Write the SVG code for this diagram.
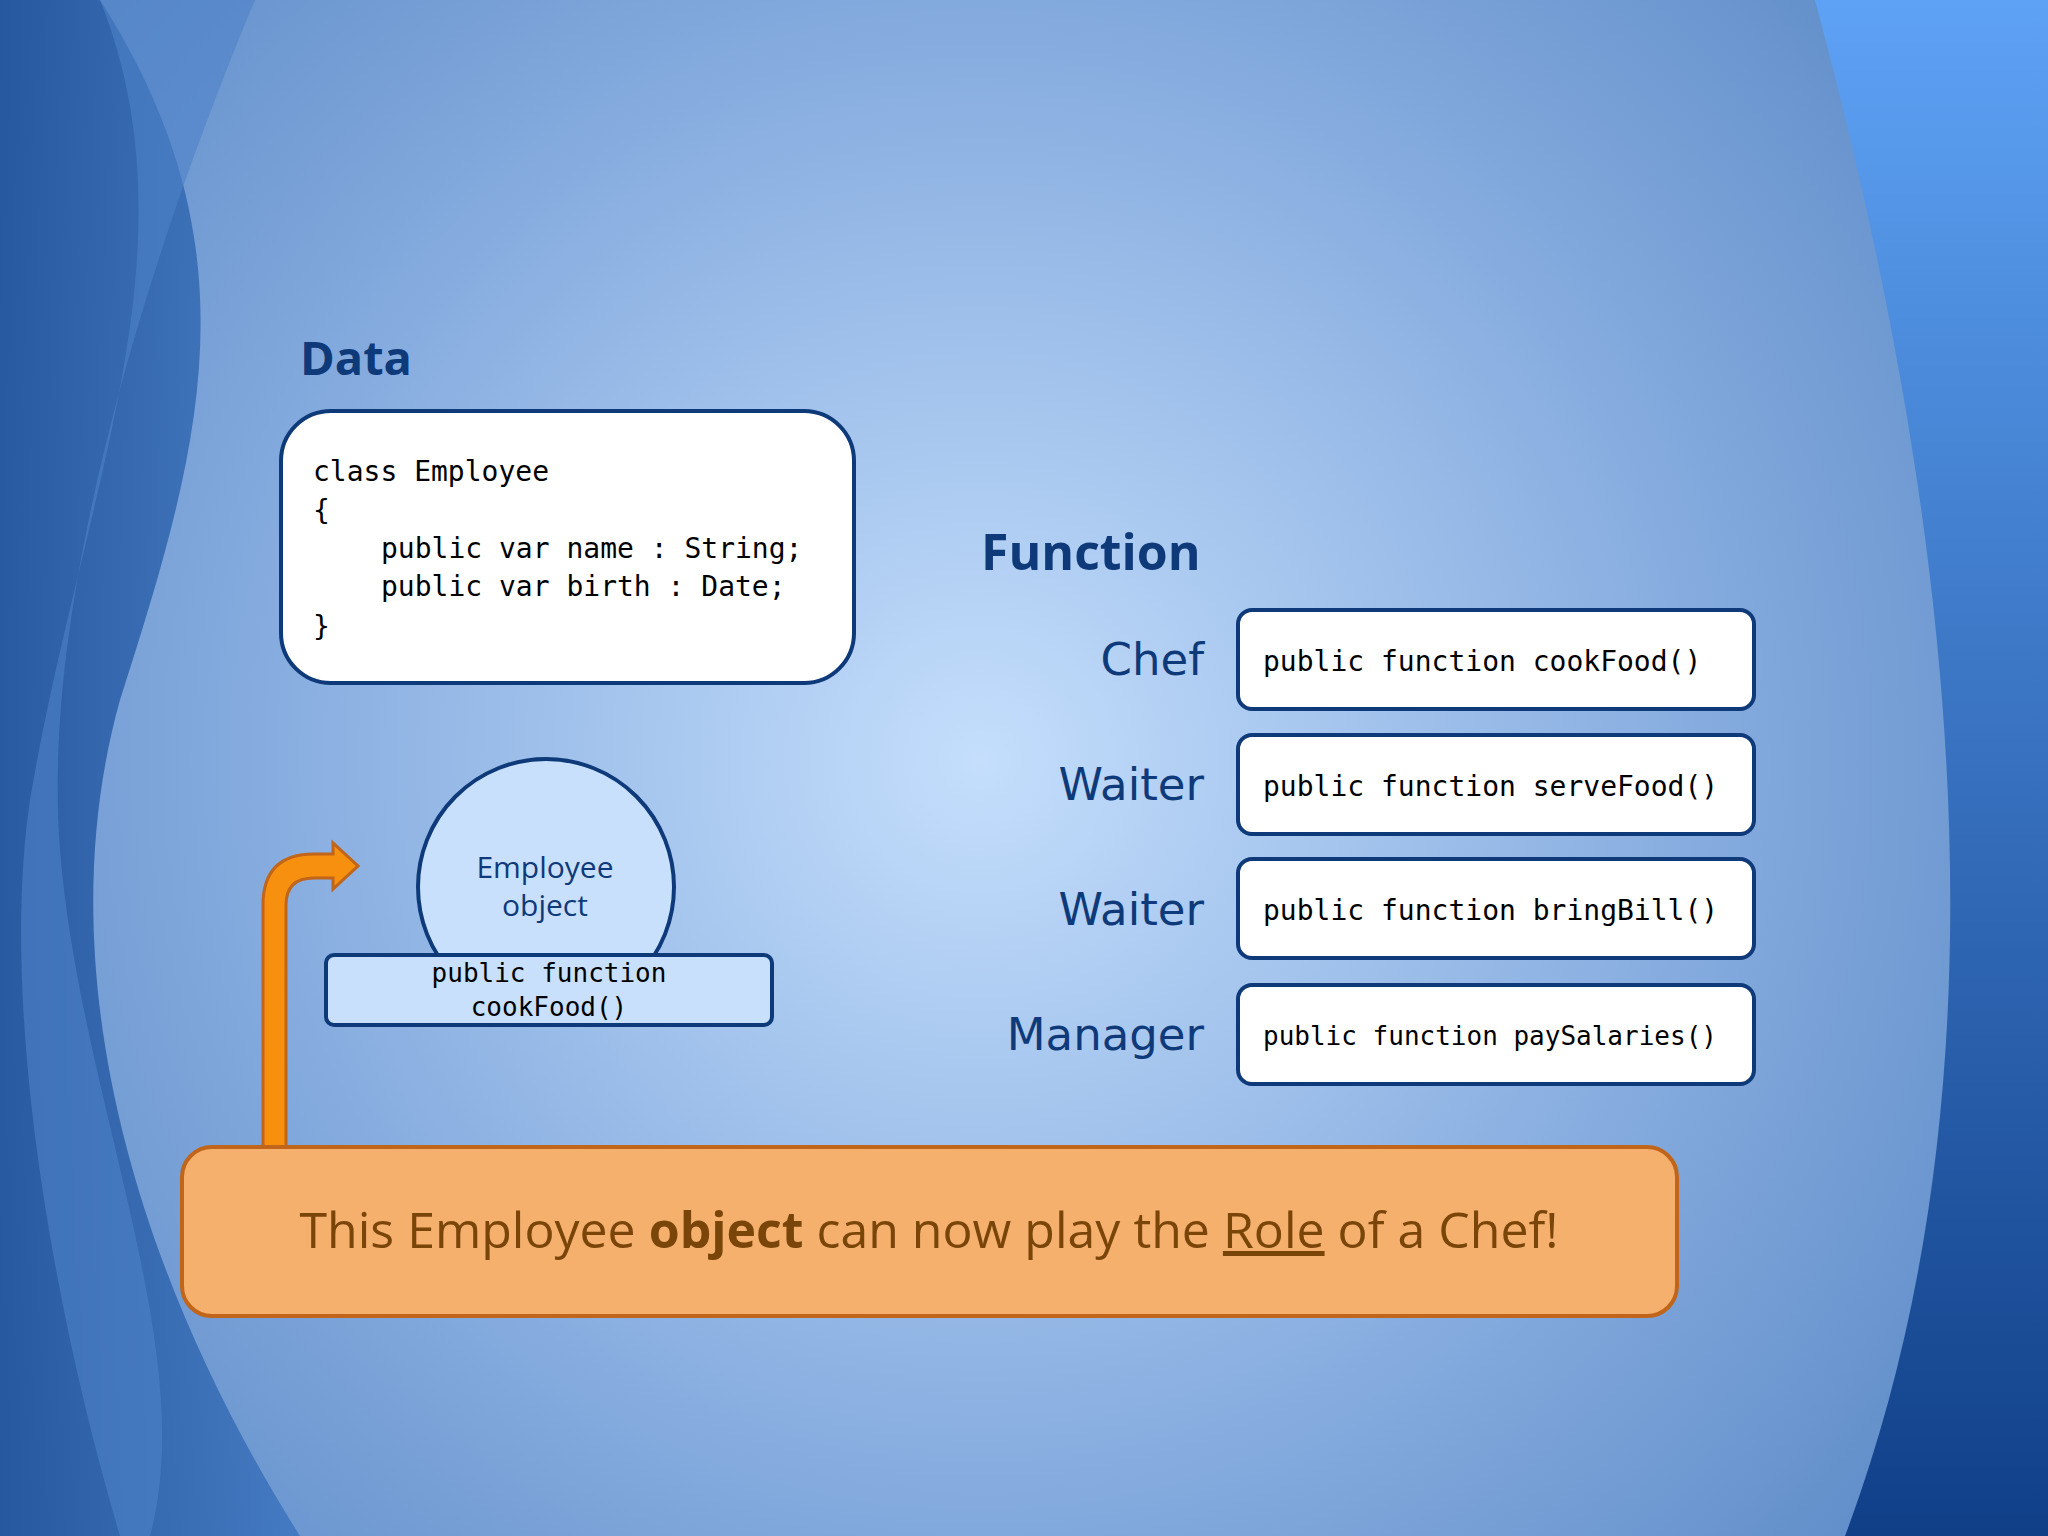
<svg xmlns="http://www.w3.org/2000/svg" width="2048" height="1536" viewBox="0 0 2048 1536">
<defs>
<radialGradient id="bg" cx="980" cy="760" r="1200" gradientUnits="userSpaceOnUse">
<stop offset="0" stop-color="#c4defc"/><stop offset="0.6" stop-color="#86acdf"/><stop offset="1" stop-color="#5f8cc8"/>
</radialGradient>
<linearGradient id="ldark" x1="0" y1="0" x2="1" y2="0"><stop offset="0" stop-color="#1c4f98"/><stop offset="1" stop-color="#3e76c0"/></linearGradient>
<linearGradient id="rdark" x1="0" y1="0" x2="0" y2="1"><stop offset="0" stop-color="#5ea2f5"/><stop offset="1" stop-color="#103f88"/></linearGradient>
<style>
.mono{font-family:"DejaVu Sans Mono","Liberation Mono",monospace;fill:#000}
.sans{font-family:"Open Sans","DejaVu Sans",sans-serif}
.box{fill:#fff;stroke:#0f3a7a;stroke-width:4}
.lbl{font-family:"DejaVu Sans","Open Sans",sans-serif;fill:#0f3a7a;font-size:45px;text-anchor:end}
</style>
</defs>
<rect width="2048" height="1536" fill="url(#bg)"/>
<path d="M0 0 L100 0 C260 250 200 450 120 700 C50 950 120 1250 300 1536 L0 1536 Z" fill="url(#ldark)" opacity="0.85"/>
<path d="M100 0 L255 0 C150 250 40 600 60 850 C80 1100 200 1350 150 1536 L120 1536 C50 1300 0 1000 30 800 C80 500 200 250 100 0 Z" fill="#4e82c8" opacity="0.6"/>
<path d="M1815 0 L2048 0 L2048 1536 L1845 1536 C1990 1150 1990 650 1815 0 Z" fill="url(#rdark)"/>
<g id="data-title"><text x="300" y="375" class="sans" font-size="47" font-weight="bold" fill="#0f3a7a">Data</text></g>
<g id="data-box">
<rect x="281" y="411" width="573" height="272" rx="50" class="box"/>
<g class="mono" font-size="28" xml:space="preserve">
<text x="313" y="481">class Employee</text>
<text x="313" y="520">{</text>
<text x="381" y="558">public var name : String;</text>
<text x="381" y="596">public var birth : Date;</text>
<text x="313" y="636">}</text>
</g>
</g>
<g id="function-title"><text x="981" y="570" class="sans" font-size="50" font-weight="bold" fill="#0f3a7a">Function</text></g>
<g id="chef"><text x="1204" y="675" class="lbl">Chef</text><rect x="1238" y="610" width="516" height="99" rx="14" class="box"/><text x="1263" y="671" class="mono" font-size="28">public function cookFood()</text></g>
<g id="waiter1"><text x="1204" y="800" class="lbl">Waiter</text><rect x="1238" y="735" width="516" height="99" rx="14" class="box"/><text x="1263" y="796" class="mono" font-size="28">public function serveFood()</text></g>
<g id="waiter2"><text x="1204" y="925" class="lbl">Waiter</text><rect x="1238" y="859" width="516" height="99" rx="14" class="box"/><text x="1263" y="920" class="mono" font-size="28">public function bringBill()</text></g>
<g id="manager"><text x="1204" y="1050" class="lbl">Manager</text><rect x="1238" y="985" width="516" height="99" rx="14" class="box"/><text x="1263" y="1045" class="mono" font-size="26">public function paySalaries()</text></g>
<g id="connectors">
<path d="M263 1150 L263 905 Q263 854 314 854 L333 854 L333 843 L358 866 L333 889 L333 878 L314 878 Q286 878 286 905 L286 1150 Z" fill="#f7900f" stroke="#c0651a" stroke-width="3"/>
</g>
<g id="employee-object">
<circle cx="546" cy="887" r="128" fill="#c8e0fc" stroke="#0f3a7a" stroke-width="4"/>
<text x="545" y="878" class="sans" font-size="30" fill="#0f3a7a" text-anchor="middle">Employee</text>
<text x="545" y="916" class="sans" font-size="30" fill="#0f3a7a" text-anchor="middle">object</text>
<rect x="326" y="955" width="446" height="70" rx="8" fill="#c8e0fc" stroke="#0f3a7a" stroke-width="4"/>
<text x="549" y="982" class="mono" font-size="26" text-anchor="middle">public function</text>
<text x="549" y="1016" class="mono" font-size="26" text-anchor="middle">cookFood()</text>
</g>
<g id="banner">
<rect x="182" y="1147" width="1495" height="169" rx="30" fill="#f5b06e" stroke="#c0651a" stroke-width="4"/>
<text x="929" y="1248" class="sans" font-size="50" fill="#7a4508" text-anchor="middle">This Employee <tspan font-weight="bold">object</tspan> can now play the <tspan text-decoration="underline">Role</tspan> of a Chef!</text>
</g>
</svg>
